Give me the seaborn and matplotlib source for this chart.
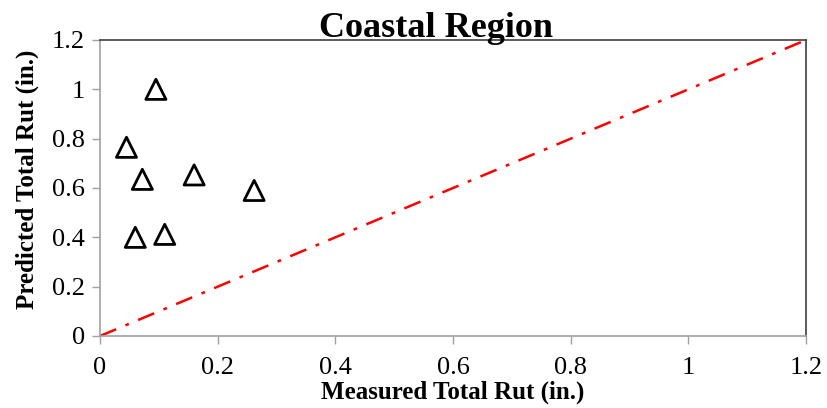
import matplotlib
matplotlib.use("Agg")
import matplotlib.pyplot as plt
import seaborn as sns
import pandas as pd

measured = [0.095, 0.045, 0.072, 0.160, 0.262, 0.060, 0.110]
predicted = [1.00, 0.765, 0.635, 0.653, 0.590, 0.400, 0.412]
line_x = [0.0, 1.2]
line_y = [0.0, 1.2]
ticks = [0, 0.2, 0.4, 0.6, 0.8, 1, 1.2]
tick_labels = ["0", "0.2", "0.4", "0.6", "0.8", "1", "1.2"]

sns.set_theme(style="white")
plt.rcParams["font.family"] = ["Liberation Serif", "DejaVu Serif"]
plt.rcParams["text.color"] = "black"
plt.rcParams["axes.labelcolor"] = "black"

df = pd.DataFrame({"Measured": measured, "Predicted": predicted})

fig = plt.figure(figsize=(8.28, 4.08), dpi=100)
ax = fig.add_axes([100 / 828, 1 - 336 / 408, 706 / 828, 296 / 408])

sns.lineplot(x=line_x, y=line_y, ax=ax, color="red", linestyle=(0, (7, 4, 1.5, 4)), linewidth=1.8)
sns.scatterplot(data=df, x="Measured", y="Predicted", ax=ax, marker="^", s=210,
                facecolor="none", edgecolor="black", linewidth=2, zorder=3)

ax.set_xlim(0, 1.2)
ax.set_ylim(0, 1.2)
ax.set_xticks(ticks)
ax.set_xticklabels(tick_labels)
ax.set_yticks(ticks)
ax.set_yticklabels(tick_labels)
ax.tick_params(axis="both", labelsize=19, length=6, width=1, color="#a0a0a0", direction="out",
               bottom=True, left=True, labelcolor="black")
ax.tick_params(axis="x", pad=9)
ax.tick_params(axis="y", pad=5)

for side in ["left", "bottom"]:
    ax.spines[side].set_color("#a0a0a0")
    ax.spines[side].set_linewidth(1.2)
for side in ["top", "right"]:
    ax.spines[side].set_color("#404040")
    ax.spines[side].set_linewidth(1.2)

ax.set_xlabel("Measured Total Rut (in.)", fontsize=18, fontweight="bold", labelpad=1, color="black")
ax.set_ylabel("Predicted Total Rut (in.)", fontsize=18, fontweight="bold", color="black")
ax.yaxis.set_label_coords(-0.087, 0.53)
ax.set_title("Coastal Region", fontsize=26, fontweight="bold", pad=2, color="black", x=0.476)

fig.savefig("out.png", dpi=100)
